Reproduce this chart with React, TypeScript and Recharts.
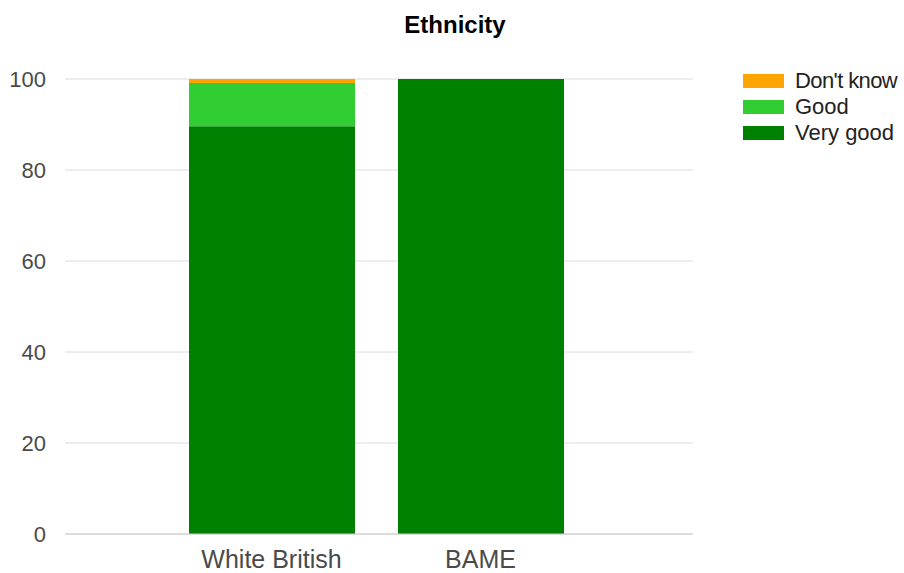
import { BarChart, Bar, XAxis, YAxis, CartesianGrid } from "recharts";

const categories = ["White British", "BAME"];
const veryGood = [89.6, 100];
const good = [9.5, 0];
const dontKnow = [0.9, 0];
const yTicks = [0, 20, 40, 60, 80, 100];

const series = [
  { key: "veryGood", name: "Very good", color: "#008000" },
  { key: "good", name: "Good", color: "#32CD32" },
  { key: "dontKnow", name: "Don't know", color: "#FFA500" },
];

const data = categories.map((name, i) => ({
  name,
  veryGood: veryGood[i],
  good: good[i],
  dontKnow: dontKnow[i],
}));

const font = "'Liberation Sans', Arial, sans-serif";

function LegendBox() {
  const items = [...series].reverse();
  return (
    <div
      style={{
        position: "absolute",
        left: 743,
        top: 68,
        fontFamily: font,
        fontSize: 22,
        color: "#222",
      }}
    >
      {items.map((s) => (
        <div
          key={s.key}
          style={{ display: "flex", alignItems: "center", height: 26 }}
        >
          <div
            style={{ width: 41, height: 14, background: s.color, marginRight: 11 }}
          />
          <span style={{ letterSpacing: s.key === "dontKnow" ? -0.6 : 0 }}>
            {s.name}
          </span>
        </div>
      ))}
    </div>
  );
}

export default function App() {
  return (
    <div
      style={{
        position: "absolute",
        left: 0,
        top: 0,
        width: 904,
        height: 573,
        background: "#fff",
        fontFamily: font,
      }}
    >
      <BarChart
        width={904}
        height={573}
        data={data}
        margin={{ top: 79, right: 211, bottom: 9, left: 0 }}
        barSize={166}
      >
        <CartesianGrid vertical={false} stroke="#dcdcdc" />
        <XAxis
          dataKey="name"
          height={30}
          padding={{ left: 102, right: 108 }}
          axisLine={{ stroke: "#cccccc" }}
          tickLine={false}
          tickSize={0}
          tickMargin={16}
          tick={{ fill: "#4a4a4a", fontSize: 25, fontFamily: font }}
        />
        <YAxis
          width={65}
          domain={[0, 100]}
          ticks={yTicks}
          axisLine={false}
          tickLine={false}
          tickSize={0}
          tickMargin={19}
          tick={{ fill: "#4a4a4a", fontSize: 22, fontFamily: font }}
        />
        {series.map((s) => (
          <Bar
            key={s.key}
            dataKey={s.key}
            name={s.name}
            stackId="a"
            fill={s.color}
            isAnimationActive={false}
          />
        ))}
      </BarChart>
      <div
        style={{
          position: "absolute",
          top: 11,
          left: 0,
          width: 910,
          textAlign: "center",
          fontWeight: "bold",
          fontSize: 24,
          color: "#000",
        }}
      >
        Ethnicity
      </div>
      <LegendBox />
    </div>
  );
}
